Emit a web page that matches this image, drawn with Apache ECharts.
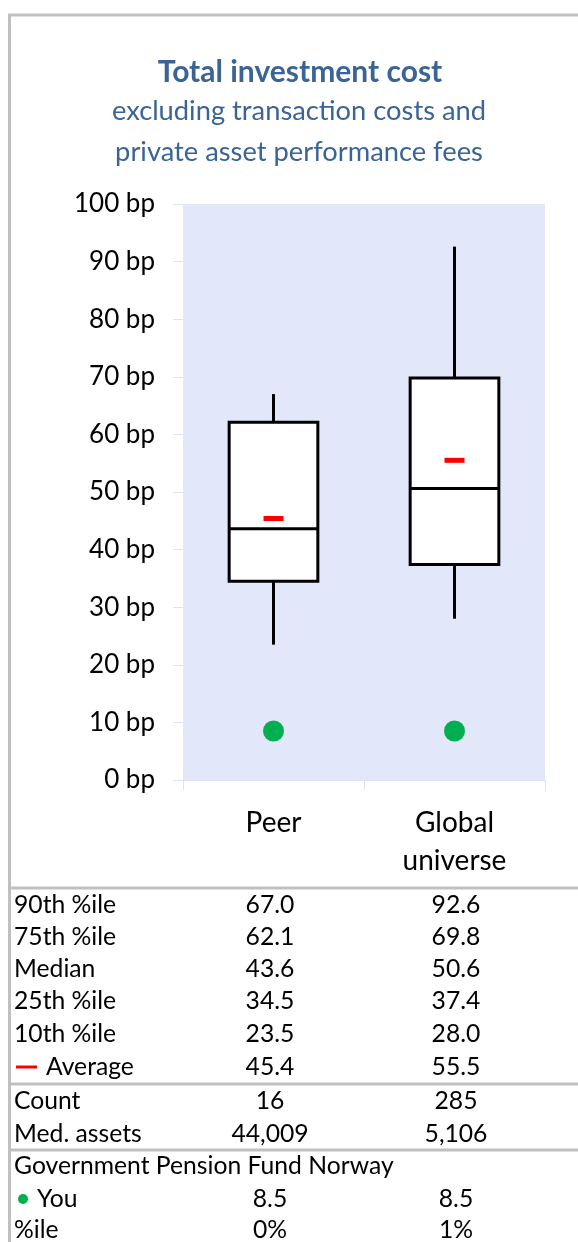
<!DOCTYPE html>
<html>
<head>
<meta charset="utf-8">
<script src="https://cdn.jsdelivr.net/npm/echarts@6/dist/echarts.min.js"></script>
<style>
html,body{margin:0;padding:0;background:#fff;}
#chart{width:578px;height:1242px;}
</style>
</head>
<body>
<div id="chart"></div>
<script>
// ---- data ----
var categories = ['Peer', 'Global\nuniverse'];
var p90 = [67.0, 92.6];
var p75 = [62.1, 69.8];
var median = [43.6, 50.6];
var p25 = [34.5, 37.4];
var p10 = [23.5, 28.0];
var average = [45.4, 55.5];
var counts = [16, 285];
var medAssets = [44009, 5106];
var you = [8.5, 8.5];
var youPctile = ['0%', '1%'];
var fundName = 'Government Pension Fund Norway';

var FONT = 'Lato, "Open Sans", sans-serif';
var chart = echarts.init(document.getElementById('chart'), null, {renderer: 'canvas'});

var boxData = categories.map(function (c, i) { return [i, p10[i], p25[i], median[i], p75[i], p90[i]]; });
var avgData = categories.map(function (c, i) { return [i, average[i]]; });
var youData = categories.map(function (c, i) { return [i, you[i]]; });

// ---- table graphics ----
var colX = [270, 456];
var rows = [
  {label: '90th %ile', vals: p90.map(function (v) { return v.toFixed(1); }), y: 905},
  {label: '75th %ile', vals: p75.map(function (v) { return v.toFixed(1); }), y: 937},
  {label: 'Median', vals: median.map(function (v) { return v.toFixed(1); }), y: 969},
  {label: '25th %ile', vals: p25.map(function (v) { return v.toFixed(1); }), y: 1001},
  {label: '10th %ile', vals: p10.map(function (v) { return v.toFixed(1); }), y: 1034},
  {label: 'Average', vals: average.map(function (v) { return v.toFixed(1); }), y: 1067, avg: true},
  {label: 'Count', vals: counts.map(function (v) { return String(v); }), y: 1101},
  {label: 'Med. assets', vals: medAssets.map(function (v) { return v.toLocaleString('en-US'); }), y: 1134},
  {label: fundName, vals: [], y: 1166},
  {label: 'You', vals: you.map(function (v) { return v.toFixed(1); }), y: 1199, you: true},
  {label: '%ile', vals: youPctile, y: 1230}
];
var TFS = 24.7;
var graphics = [];
// outer border
graphics.push({type: 'line', shape: {x1: 9.5, y1: 15, x2: 9.5, y2: 1242}, style: {stroke: '#c0c0c0', lineWidth: 3}, z: 10});
graphics.push({type: 'line', shape: {x1: 8, y1: 15, x2: 578, y2: 15}, style: {stroke: '#c0c0c0', lineWidth: 3}, z: 10});
// table separators
[888, 1084, 1150].forEach(function (y) {
  graphics.push({type: 'line', shape: {x1: 8, y1: y, x2: 578, y2: y}, style: {stroke: '#c0c0c0', lineWidth: 3}, z: 10});
});
// title
graphics.push({type: 'text', x: 300, y: 72, style: {text: 'Total investment cost', font: 'bold 30px ' + FONT, fill: '#3a6496', align: 'center', verticalAlign: 'middle'}});
graphics.push({type: 'text', x: 299, y: 111, style: {text: 'excluding transaction costs and', font: '27.3px ' + FONT, fill: '#3a6496', align: 'center', verticalAlign: 'middle'}});
graphics.push({type: 'text', x: 299, y: 152, style: {text: 'private asset performance fees', font: '27.3px ' + FONT, fill: '#3a6496', align: 'center', verticalAlign: 'middle'}});

rows.forEach(function (r) {
  var lx = 14;
  if (r.avg) {
    graphics.push({type: 'line', shape: {x1: 16, y1: r.y, x2: 37, y2: r.y}, style: {stroke: '#ff0000', lineWidth: 3}});
    lx = 46;
  }
  if (r.you) {
    graphics.push({type: 'circle', shape: {cx: 23, cy: r.y, r: 5}, style: {fill: '#00b050'}});
    lx = 37;
  }
  graphics.push({type: 'text', x: lx, y: r.y, style: {text: r.label, font: TFS + 'px ' + FONT, fill: '#000', align: 'left', verticalAlign: 'middle'}});
  r.vals.forEach(function (v, i) {
    graphics.push({type: 'text', x: colX[i], y: r.y, style: {text: v, font: TFS + 'px ' + FONT, fill: '#000', align: 'center', verticalAlign: 'middle'}});
  });
});

var option = {
  animation: false,
  backgroundColor: '#ffffff',
  grid: {left: 183, right: 33, top: 204, bottom: 462, show: true, backgroundColor: '#e2e8fa', borderWidth: 0},
  xAxis: {
    type: 'category', data: categories, boundaryGap: true,
    axisLine: {show: true, lineStyle: {color: '#dde3f0', width: 1}},
    axisTick: {show: true, length: 10, lineStyle: {color: '#dde3f0'}},
    axisLabel: {fontFamily: FONT, fontSize: 28, color: '#000', margin: 24, lineHeight: 38},
    splitLine: {show: false}
  },
  yAxis: {
    type: 'value', min: 0, max: 100, interval: 10,
    axisLine: {show: false},
    axisTick: {show: true, length: 10, lineStyle: {color: '#dde3f0'}},
    axisLabel: {fontFamily: FONT, fontSize: 26, color: '#000', margin: 28, formatter: '{value} bp'},
    splitLine: {show: false}
  },
  series: [
    {
      type: 'custom',
      data: boxData,
      z: 2,
      renderItem: function (params, api) {
        var i = api.value(0);
        var cx = api.coord([i, 0])[0];
        var w = api.size([1, 0])[0] * 0.49;
        var yLo = api.coord([i, api.value(1)])[1];
        var yQ1 = api.coord([i, api.value(2)])[1];
        var yMed = api.coord([i, api.value(3)])[1];
        var yQ3 = api.coord([i, api.value(4)])[1];
        var yHi = api.coord([i, api.value(5)])[1];
        var ls = {stroke: '#000', lineWidth: 3};
        return {
          type: 'group',
          children: [
            {type: 'line', shape: {x1: cx, y1: yHi, x2: cx, y2: yQ3}, style: ls},
            {type: 'line', shape: {x1: cx, y1: yQ1, x2: cx, y2: yLo}, style: ls},
            {type: 'rect', shape: {x: cx - w / 2, y: yQ3, width: w, height: yQ1 - yQ3}, style: {fill: '#fff', stroke: '#000', lineWidth: 3}},
            {type: 'line', shape: {x1: cx - w / 2, y1: yMed, x2: cx + w / 2, y2: yMed}, style: ls}
          ]
        };
      }
    },
    {
      type: 'scatter', data: avgData, symbol: 'rect', symbolSize: [20, 5], z: 3,
      itemStyle: {color: '#ff0000', opacity: 1}
    },
    {
      type: 'scatter', data: youData, symbol: 'circle', symbolSize: 21, z: 3,
      itemStyle: {color: '#00b050', opacity: 1}
    }
  ],
  graphic: graphics
};
chart.setOption(option);
</script>
</body>
</html>
